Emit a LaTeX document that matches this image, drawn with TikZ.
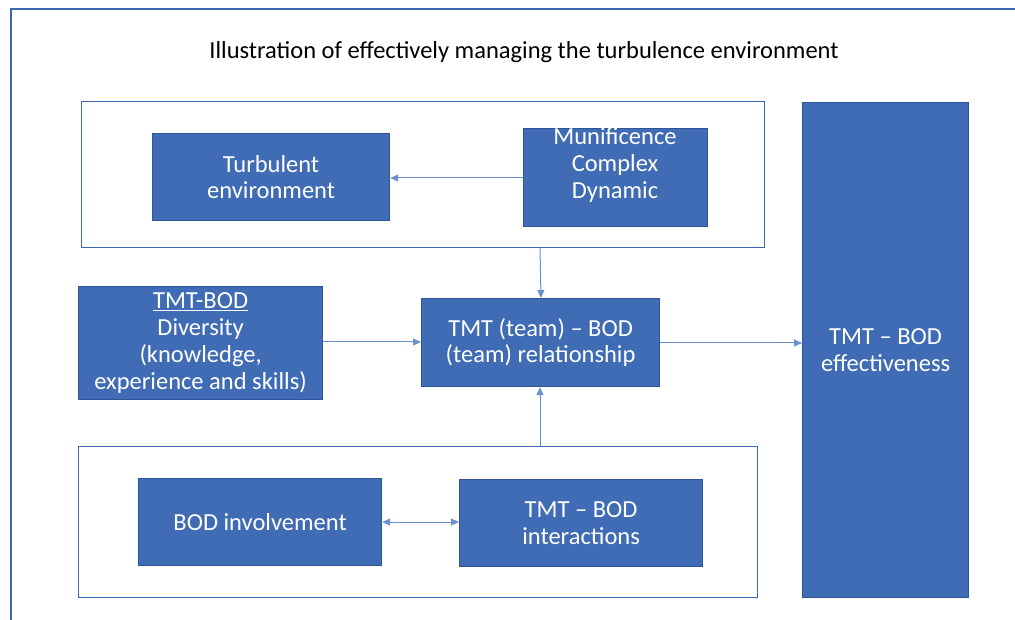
\documentclass[tikz,border=0pt]{standalone}
\usepackage{fontspec}
\setmainfont{Carlito}
\usetikzlibrary{arrows.meta}
\definecolor{boxblue}{HTML}{3F6CB4}
\definecolor{boxedge}{HTML}{2F5597}
\definecolor{framecol}{HTML}{3E66B0}
\definecolor{linkcol}{HTML}{6B8FD0}
\tikzset{
  x=1pt, y=-1pt,
  boxfont/.style={font=\fontsize{24.5}{26.8}\selectfont},
  bluebox/.style={draw=boxedge, line width=1.2pt, fill=boxblue, text=white,
    align=center, boxfont, inner sep=0pt, anchor=north west},
  boxtext/.style={text=white, align=center, boxfont, inner sep=0pt},
  groupframe/.style={draw=framecol, line width=1.4pt, fill=none, inner sep=0pt, anchor=north west},
  link/.style={draw=linkcol, line width=1pt, -{Triangle[length=8pt,width=7pt]}},
  dlink/.style={draw=linkcol, line width=1pt, {Triangle[length=8pt,width=7pt]}-{Triangle[length=8pt,width=7pt]}}
}
\begin{document}
\begin{tikzpicture}
\useasboundingbox (0,0) rectangle (1015,620);
\fill[white] (0,0) rectangle (1015,620);
% page frame, only top and left edges inside the view
\draw[framecol, line width=1.6pt] (11,620) -- (11,9) -- (1015,9);

\node[font=\fontsize{24.5}{28}\selectfont, anchor=center] (title) at (524,52)
  {Illustration of effectively managing the turbulence environment};

% grouping frames
\node[groupframe, minimum width=683pt, minimum height=146pt] (topgrp) at (81,101) {};
\node[groupframe, minimum width=679pt, minimum height=151pt] (botgrp) at (78,446) {};

% boxes
\node[bluebox, minimum width=237pt, minimum height=87pt] (turb) at (152,133)
  {Turbulent\\environment};
\node[bluebox, minimum width=184pt, minimum height=98pt] (muni) at (523,128) {};
\node[boxtext] (munitext) at (615,165) {Munificence\\Complex\\Dynamic};
\node[bluebox, minimum width=244pt, minimum height=113pt] (div) at (78,286)
  {\underline{TMT-BOD}\\Diversity\\(knowledge,\\experience and skills)};
\node[bluebox, minimum width=238pt, minimum height=88pt] (rel) at (421,298)
  {TMT (team) -- BOD\\(team) relationship};
\node[bluebox, minimum width=166pt, minimum height=495pt] (eff) at (802,102)
  {TMT -- BOD\\effectiveness};
\node[bluebox, minimum width=243pt, minimum height=87pt] (inv) at (138,478)
  {BOD involvement};
\node[bluebox, minimum width=243pt, minimum height=87pt] (inter) at (459,479)
  {TMT -- BOD\\interactions};

% connectors
\draw[link] (muni.west |- 0,178) -- (turb.east |- 0,178);
\draw[link] (topgrp.south -| 540,0) -- (rel.north -| 541,0);
\draw[link] (div.east |- 0,342) -- (rel.west |- 0,342);
\draw[link] (rel.east |- 0,343) -- (eff.west |- 0,343);
\draw[link] (botgrp.north -| 540,0) -- (rel.south -| 540,0);
\draw[dlink] (inv.east |- 0,522) -- (inter.west |- 0,522);
\end{tikzpicture}
\end{document}
